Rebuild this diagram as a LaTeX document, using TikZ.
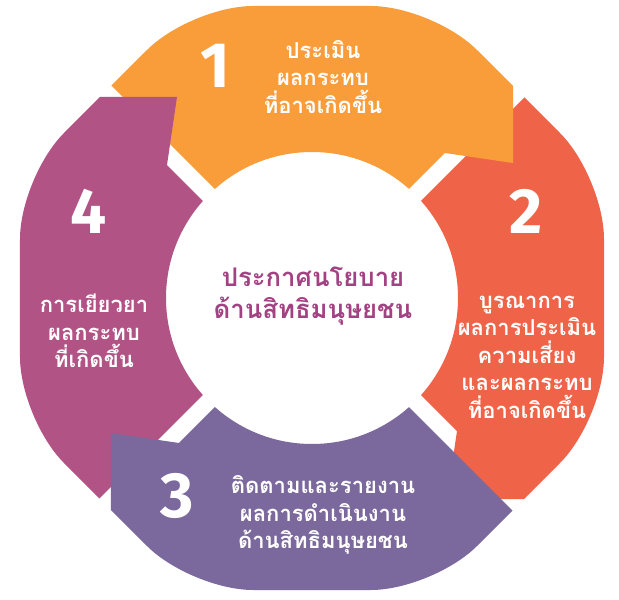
\documentclass[tikz,border=0pt]{standalone}
\usepackage{fontspec}
\newfontfamily\thaif[Script=Thai]{Loma}
\newfontfamily\numf{Fira Sans}
\definecolor{cOrange}{HTML}{F99D3B}
\definecolor{cRed}{HTML}{EF6449}
\definecolor{cPurple}{HTML}{7B689C}
\definecolor{cMagenta}{HTML}{B25385}
\definecolor{cText}{HTML}{A34283}
\newcommand\ringpart[2]{%
  \begin{scope}[rotate=#2]
    \clip[rounded corners=62] (292,0) -- (292,121) -- (121,292) -- (-121,292) -- (-292,121) -- (-292,-121) -- (-121,-292) -- (121,-292) -- (292,-121) -- cycle;
    \clip (0,12) -- (133,145) -- (201,135) -- (201,520) -- (-508,520) -- cycle;
    \fill[#1, even odd rule] (-420,-420) rectangle (420,420) (0,0) circle (146);
  \end{scope}}
\tikzset{
  numlabel/.style={text=white, inner sep=0pt, font=\numf\bfseries\fontsize{64}{64}\selectfont},
  steptext/.style={text=white, inner sep=0pt, align=center, font=\thaif\bfseries\fontsize{22}{27.5}\selectfont},
  centertext/.style={text=cText, inner sep=0pt, align=center, font=\thaif\bfseries\fontsize{25.7}{32}\selectfont}
}
\begin{document}
\begin{tikzpicture}[x=1pt,y=1pt]
\useasboundingbox (-312,-302) rectangle (307,298);
\ringpart{cRed}{-90}
\ringpart{cOrange}{0}
\ringpart{cMagenta}{90}
\ringpart{cPurple}{180}
\node[numlabel] (n1) at (-97,232) {1};
\node[numlabel] (n2) at (214,87) {2};
\node[numlabel] (n3) at (-135,-198) {3};
\node[numlabel] (n4) at (-223,87) {4};
\node[steptext] (t1) at (11,221) {ประเมิน\\ผลกระทบ\\ที่อาจเกิดขึ้น};
\node[steptext] (t2) at (215,-59) {บูรณาการ\\ผลการประเมิน\\ความเสี่ยง\\และผลกระทบ\\ที่อาจเกิดขึ้น};
\node[steptext] (t3) at (11,-217) {ติดตามและรายงาน\\ผลการดำเนินงาน\\ด้านสิทธิมนุษยชน};
\node[steptext] (t4) at (-218,-33) {การเยียวยา\\ผลกระทบ\\ที่เกิดขึ้น};
\node[centertext] (c) at (1,2) {ประกาศนโยบาย\\ด้านสิทธิมนุษยชน};
\end{tikzpicture}
\end{document}
